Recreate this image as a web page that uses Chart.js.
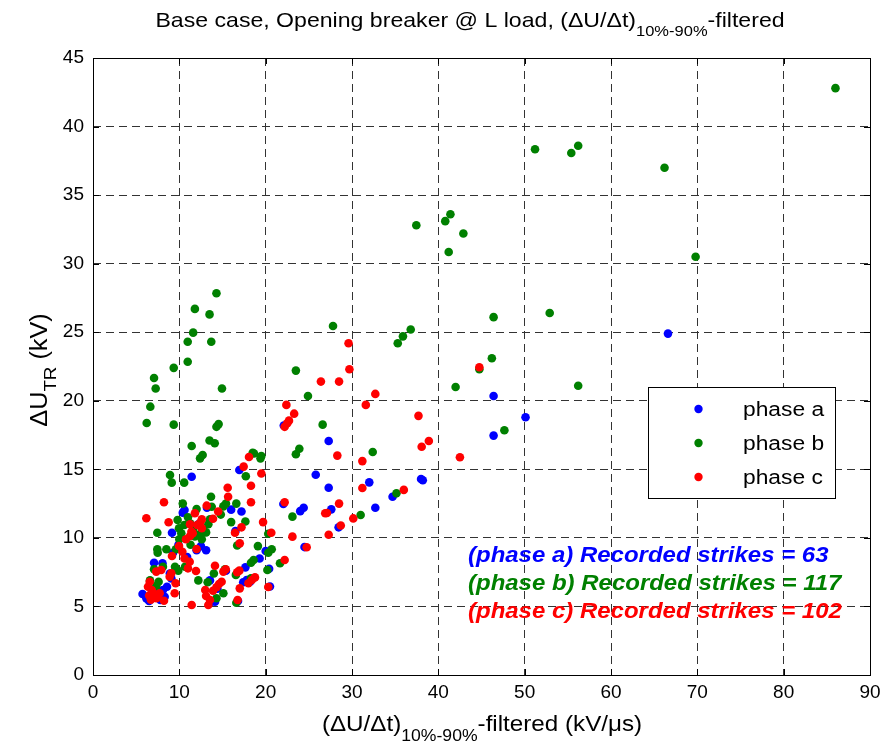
<!DOCTYPE html>
<html>
<head>
<meta charset="utf-8">
<script src="https://cdn.jsdelivr.net/npm/chart.js@4.4.1/dist/chart.umd.min.js"></script>
<style>
  html, body { margin: 0; padding: 0; background: #ffffff; }
  #wrap { width: 889px; height: 747px; position: relative; }
</style>
</head>
<body>
<div id="wrap"><canvas id="c" width="889" height="747"></canvas></div>
<script>
// Axis ranges and tick values
const xTicks = [0, 10, 20, 30, 40, 50, 60, 70, 80, 90];
const yTicks = [0, 5, 10, 15, 20, 25, 30, 35, 40, 45];

// Legend entries and strike counts per phase
const phaseNames = ['phase a', 'phase b', 'phase c'];
const strikeCounts = [63, 117, 102];

// Phase a: [dU/dt (kV/us), dU_TR (kV)]
const phaseA = [
  [66.6, 24.9], [46.4, 20.35], [50.1, 18.8], [46.4, 17.46], [38.0, 14.3],
  [34.7, 13.0], [32.0, 14.05], [27.3, 13.66], [25.8, 14.6], [27.3, 17.07],
  [32.7, 12.2], [27.6, 12.08], [24.4, 12.2], [24.0, 11.95], [22.05, 12.47],
  [28.45, 10.77], [24.5, 9.33], [22.1, 18.2], [19.3, 8.5], [20.4, 7.75],
  [20.5, 6.45], [17.65, 7.85], [17.4, 6.76], [17.8, 6.93], [13.55, 6.9],
  [14.13, 5.35], [16.95, 14.95], [16.0, 12.06], [17.2, 11.93], [13.1, 9.1],
  [12.5, 9.4], [10.4, 11.84], [10.6, 12.04], [11.43, 14.46], [9.15, 10.38],
  [9.27, 8.92], [7.07, 8.19], [8.05, 8.15], [9.07, 7.05], [8.57, 6.44],
  [8.1, 6.2], [5.74, 5.91], [6.18, 5.59], [6.5, 5.4], [7.8, 5.48],
  [8.3, 5.7], [20.0, 9.04], [6.9, 5.8], [7.3, 6.3], [10.9, 8.6],
  [11.5, 10.2], [12.2, 11.0], [14.4, 6.3], [18.2, 6.8], [13.2, 12.2],
  [16.5, 10.5], [9.9, 9.5], [15.4, 7.6], [13.6, 5.3], [8.9, 7.4],
  [12.0, 9.1], [16.8, 5.4], [38.2, 14.2]
];

// Phase b
const phaseB = [
  [86.0, 42.8], [51.2, 38.34], [55.4, 38.07], [56.2, 38.6], [66.2, 37.0],
  [37.45, 32.8], [40.8, 33.1], [41.4, 33.6], [42.9, 32.2], [41.2, 30.85],
  [69.8, 30.5], [46.4, 26.1], [52.9, 26.4], [36.8, 25.2], [35.9, 24.7],
  [35.3, 24.2], [46.2, 23.1], [44.75, 22.3], [42.0, 21.0], [56.2, 21.1],
  [47.65, 17.85], [35.15, 13.25], [31.0, 11.67], [32.4, 16.26], [26.6, 18.26],
  [24.9, 20.35], [23.5, 22.2], [27.8, 25.45], [23.9, 16.5], [23.5, 16.1],
  [23.1, 11.55], [14.3, 27.84], [11.8, 26.7], [13.5, 26.3], [11.6, 24.97],
  [10.97, 24.3], [13.7, 24.3], [10.97, 22.85], [9.35, 22.4], [7.07, 21.66],
  [7.26, 20.9], [14.94, 20.9], [6.64, 19.57], [6.22, 18.38], [9.35, 18.26],
  [14.3, 18.1], [14.55, 18.3], [11.43, 16.7], [13.5, 17.1], [14.1, 16.9],
  [12.7, 16.05], [12.4, 15.8], [18.5, 16.2], [18.65, 16.15], [19.4, 15.8],
  [19.5, 15.97], [17.7, 14.5], [8.92, 14.59], [9.12, 14.03], [10.56, 14.03],
  [13.67, 13.0], [13.75, 12.27], [15.4, 12.5], [15.1, 12.3], [16.6, 12.5],
  [10.4, 12.5], [16.0, 11.15], [17.65, 11.2], [13.55, 11.35], [13.36, 10.99],
  [12.78, 10.58], [12.4, 10.28], [13.1, 10.4], [20.3, 10.3], [7.45, 10.38],
  [9.96, 10.7], [10.23, 10.34], [10.58, 10.94], [11.24, 11.06], [11.6, 10.58],
  [16.7, 9.45], [11.3, 9.5], [7.45, 9.17], [8.5, 9.17], [9.6, 9.17],
  [7.49, 8.92], [20.7, 9.17], [20.3, 8.92], [21.66, 8.15], [18.3, 8.19],
  [18.6, 8.39], [20.2, 7.66], [10.66, 7.9], [9.5, 7.9], [9.88, 7.6],
  [7.07, 7.71], [7.6, 6.8], [7.33, 6.49], [12.2, 6.9], [13.28, 6.76],
  [15.29, 7.71], [15.1, 5.96], [14.3, 5.6], [16.6, 5.27], [16.55, 7.3],
  [18.3, 7.05], [11.0, 11.5], [12.0, 12.1], [14.8, 11.7], [10.0, 9.9],
  [8.1, 7.9], [6.6, 6.9], [11.8, 10.1], [14.0, 7.4], [19.1, 9.4],
  [12.6, 9.9], [9.8, 11.3]
];

// Phase c
const phaseC = [
  [44.75, 22.45], [42.5, 15.88], [37.7, 18.9], [38.07, 16.65], [38.9, 17.07],
  [36.0, 13.5], [29.6, 24.2], [29.7, 22.3], [26.4, 21.4], [28.5, 21.4],
  [32.7, 20.5], [31.6, 19.7], [22.4, 19.7], [23.3, 19.06], [22.7, 18.55],
  [22.5, 18.36], [22.2, 18.1], [28.3, 16.0], [31.2, 15.6], [31.2, 13.64],
  [28.5, 12.5], [26.9, 11.8], [27.1, 11.82], [30.15, 11.42], [28.7, 10.9],
  [27.3, 10.23], [23.1, 10.09], [22.2, 12.6], [20.65, 10.38], [19.7, 11.15],
  [24.75, 9.32], [22.2, 8.39], [20.3, 6.42], [18.07, 15.9], [17.45, 15.2],
  [19.5, 14.7], [18.3, 13.8], [18.3, 12.6], [15.6, 13.66], [15.65, 13.0],
  [13.17, 12.35], [14.5, 11.93], [11.8, 11.8], [12.6, 11.35], [12.4, 11.1],
  [12.08, 10.94], [13.9, 11.4], [11.24, 10.99], [11.55, 10.34], [11.24, 10.14],
  [10.77, 9.9], [17.2, 10.77], [16.45, 10.38], [17.0, 9.6], [12.0, 9.19],
  [9.96, 9.41], [10.35, 8.99], [10.6, 8.5], [11.2, 8.26], [11.0, 7.78],
  [9.15, 8.68], [8.22, 12.6], [6.18, 11.43], [8.76, 11.14], [16.7, 7.49],
  [16.95, 7.61], [15.37, 7.71], [15.1, 7.54], [14.13, 7.97], [11.93, 7.59],
  [14.6, 6.64], [14.3, 6.4], [13.9, 6.15], [14.9, 6.8], [18.0, 6.69],
  [18.4, 6.93], [18.76, 7.12], [17.0, 6.32], [16.75, 5.47], [13.1, 5.76],
  [13.55, 5.47], [13.36, 5.1], [11.43, 5.1], [13.0, 6.2], [7.9, 7.66],
  [7.33, 7.54], [9.07, 7.42], [8.88, 7.17], [6.57, 6.8], [6.37, 6.44],
  [7.72, 5.96], [9.57, 6.69], [9.46, 5.96], [6.8, 6.2], [7.1, 5.9],
  [6.5, 5.8], [7.33, 5.6], [6.7, 5.5], [7.5, 5.7], [8.22, 5.42],
  [12.6, 10.7], [11.4, 10.45]
];

const phaseColors = ['#0000ff', '#008000', '#ff0000'];
const FONT = '"Liberation Sans", Arial, Helvetica, sans-serif';
const STRETCH = 1.1;   // labels are set slightly wide

function toPoints(arr) { return arr.map(p => ({ x: p[0], y: p[1] })); }

// Draws a run of text pieces (sub:true pieces are smaller and lowered),
// horizontally stretched by STRETCH around the anchor.
function drawRich(ctx, pieces, x, y, size, subSize, subDrop, align) {
  const widths = pieces.map(p => {
    ctx.font = (p.sub ? subSize : size) + 'px ' + FONT;
    return ctx.measureText(p.t).width;
  });
  const total = widths.reduce((a, b) => a + b, 0);
  ctx.save();
  ctx.translate(x, y);
  ctx.scale(STRETCH, 1);
  let cx = align === 'center' ? -total / 2 : 0;
  ctx.textBaseline = 'alphabetic';
  ctx.textAlign = 'left';
  pieces.forEach((p, i) => {
    ctx.font = (p.sub ? subSize : size) + 'px ' + FONT;
    ctx.fillText(p.t, cx, p.sub ? subDrop : 0);
    cx += widths[i];
  });
  ctx.restore();
}

function drawStretched(ctx, text, x, y, font, sx) {
  ctx.save();
  ctx.translate(x, y);
  ctx.scale(sx, 1);
  ctx.font = font;
  ctx.textAlign = 'left';
  ctx.fillText(text, 0, 0);
  ctx.restore();
}

const decorPlugin = {
  id: 'decor',
  afterDatasetsDraw(chart) {
    const ctx = chart.ctx;
    const a = chart.chartArea;
    const xs = chart.scales.x, ys = chart.scales.y;
    ctx.save();
    // axes box
    ctx.strokeStyle = '#000';
    ctx.lineWidth = 1;
    ctx.strokeRect(Math.round(a.left) + 0.5, Math.round(a.top) + 0.5,
                   Math.round(a.right - a.left), Math.round(a.bottom - a.top));
    // inward tick marks on all four sides
    const tl = 6;
    ctx.beginPath();
    xTicks.forEach(v => {
      const px = Math.round(xs.getPixelForValue(v)) + 0.5;
      ctx.moveTo(px, a.bottom); ctx.lineTo(px, a.bottom - tl);
      ctx.moveTo(px, a.top); ctx.lineTo(px, a.top + tl);
    });
    yTicks.forEach(v => {
      const py = Math.round(ys.getPixelForValue(v)) + 0.5;
      ctx.moveTo(a.left, py); ctx.lineTo(a.left + tl, py);
      ctx.moveTo(a.right, py); ctx.lineTo(a.right - tl, py);
    });
    ctx.stroke();

    // legend box
    const lx = 648, ly = 387, lw = 187, lh = 111;
    ctx.fillStyle = '#fff';
    ctx.fillRect(lx, ly, lw, lh);
    ctx.strokeStyle = '#000';
    ctx.strokeRect(lx + 0.5, ly + 0.5, lw, lh);
    const rows = [409, 443, 477];
    phaseNames.forEach((name, i) => {
      ctx.fillStyle = phaseColors[i];
      ctx.beginPath();
      ctx.arc(698.5, rows[i], 4.2, 0, Math.PI * 2);
      ctx.fill();
      ctx.fillStyle = '#000';
      ctx.textBaseline = 'middle';
      drawStretched(ctx, name, 743, rows[i] + 1, '20px ' + FONT, 1.14);
    });

    // strike counts
    const lines = [556, 584, 612];
    ctx.textBaseline = 'middle';
    ['a', 'b', 'c'].forEach((ph, i) => {
      ctx.fillStyle = phaseColors[i];
      drawStretched(ctx, '(phase ' + ph + ') Recorded strikes = ' + strikeCounts[i],
                    468, lines[i], 'italic bold 22px ' + FONT, 1.09);
    });

    // title
    ctx.fillStyle = '#000';
    drawRich(ctx, [
      { t: 'Base case, Opening breaker @ L load, (\u0394U/\u0394t)' },
      { t: '10%-90%', sub: true },
      { t: '-filtered' }
    ], 470, 27, 21, 15, 9, 'center');

    // x axis title
    drawRich(ctx, [
      { t: '(\u0394U/\u0394t)' },
      { t: '10%-90%', sub: true },
      { t: '-filtered (kV/\u03bcs)' }
    ], 482, 731, 22, 16, 10, 'center');

    // y axis title (rotated)
    ctx.save();
    ctx.translate(47, 370);
    ctx.rotate(-Math.PI / 2);
    drawRich(ctx, [
      { t: '\u0394U' },
      { t: 'TR', sub: true },
      { t: ' (kV)' }
    ], 0, 0, 23, 17, 9, 'center');
    ctx.restore();

    ctx.restore();
  }
};

const whiteBg = {
  id: 'whiteBg',
  beforeDraw(chart) {
    const ctx = chart.ctx;
    ctx.save();
    ctx.fillStyle = '#fff';
    ctx.fillRect(0, 0, chart.width, chart.height);
    ctx.restore();
  }
};

const mkSet = (label, data, color, order) => ({
  label, data: toPoints(data), order,
  backgroundColor: color, borderColor: color, borderWidth: 0,
  pointRadius: 4.3, pointHoverRadius: 4.3, pointStyle: 'circle'
});

const gridOpts = { color: '#333', lineWidth: 1, drawTicks: false };
const borderOpts = { display: false, dash: [8, 5] };

new Chart(document.getElementById('c'), {
  type: 'scatter',
  data: {
    datasets: [
      mkSet(phaseNames[2], phaseC, phaseColors[2], 0),
      mkSet(phaseNames[1], phaseB, phaseColors[1], 1),
      mkSet(phaseNames[0], phaseA, phaseColors[0], 2)
    ]
  },
  options: {
    responsive: false,
    animation: false,
    events: [],
    layout: { padding: { left: 0, top: 58, right: 19, bottom: 0 } },
    plugins: { legend: { display: false }, tooltip: { enabled: false }, title: { display: false } },
    scales: {
      x: {
        type: 'linear', min: 0, max: 90,
        afterFit: s => { s.height = 72; },
        afterBuildTicks: s => { s.ticks = xTicks.map(v => ({ value: v })); },
        border: borderOpts,
        grid: gridOpts,
        ticks: { color: '#000', font: { family: FONT, size: 19 }, padding: 6, maxRotation: 0, autoSkip: false }
      },
      y: {
        type: 'linear', min: 0, max: 45,
        afterFit: s => { s.width = 93; },
        afterBuildTicks: s => { s.ticks = yTicks.map(v => ({ value: v })); },
        border: borderOpts,
        grid: gridOpts,
        ticks: { color: '#000', font: { family: FONT, size: 19 }, padding: 9, autoSkip: false }
      }
    }
  },
  plugins: [whiteBg, decorPlugin]
});
</script>
</body>
</html>
